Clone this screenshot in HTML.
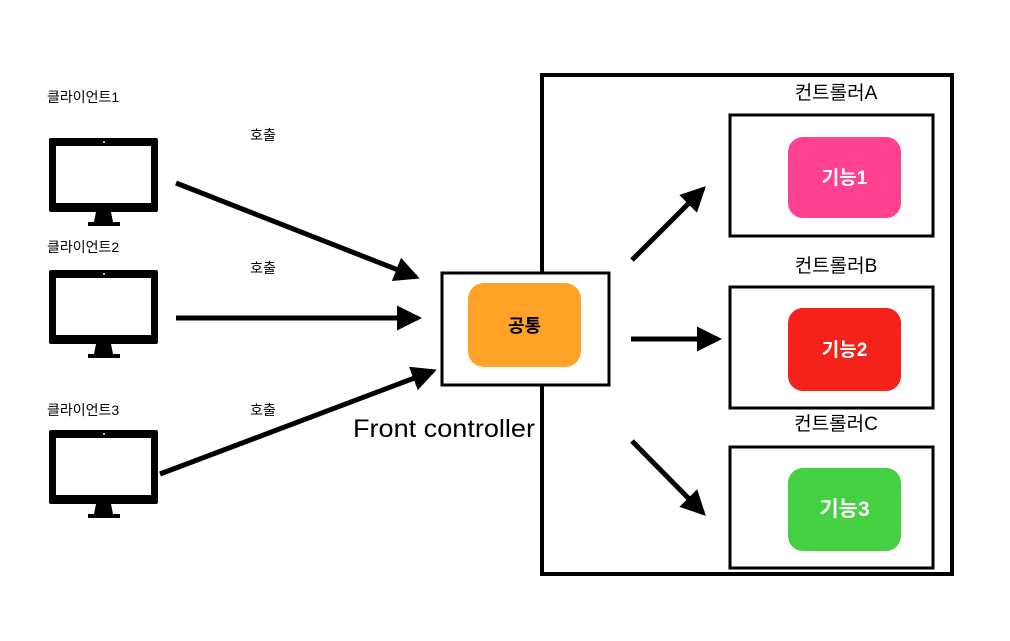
<!DOCTYPE html>
<html><head><meta charset="utf-8"><style>
html,body{margin:0;padding:0;background:#fff;}
svg{display:block;font-family:"Liberation Sans","Noto Sans CJK KR",sans-serif;}
</style></head><body>
<svg width="1010" height="641" viewBox="0 0 1010 641" xmlns="http://www.w3.org/2000/svg">
<defs>
<marker id="ah" markerWidth="6" markerHeight="6" refX="4.2" refY="3" orient="auto" markerUnits="strokeWidth">
<path d="M0,0.5 L5,3 L0,5.5 z" fill="#000"/>
</marker>
<g id="mon">
<rect x="49" y="138" width="109" height="74" rx="2" fill="#000"/>
<rect x="56" y="146" width="95" height="57" fill="#fff"/>
<circle cx="104" cy="142" r="1" fill="#fff"/>
<path d="M96,212 L111,212 L113,222 L94,222 z" fill="#000"/>
<rect x="88" y="222" width="32" height="4" fill="#000"/>
</g>
</defs>
<rect width="1010" height="641" fill="#fff"/>
<rect x="542" y="75" width="410" height="499" fill="none" stroke="#000" stroke-width="4"/>
<rect x="442" y="273" width="167" height="112" fill="#fff" stroke="#000" stroke-width="3"/>
<rect x="468" y="283" width="113" height="84" rx="16" fill="#FFA328"/>
<text x="524.5" y="332" text-anchor="middle" font-size="18" font-weight="bold" fill="#000">공통</text>
<text x="444" y="437" text-anchor="middle" font-size="25" fill="#000" textLength="182" lengthAdjust="spacingAndGlyphs">Front controller</text>

<rect x="730" y="115" width="203" height="121" fill="#fff" stroke="#000" stroke-width="3"/>
<rect x="788" y="137" width="113" height="81" rx="15" fill="#FF4190"/>
<text x="844.5" y="184" text-anchor="middle" font-size="19" font-weight="bold" fill="#fff">기능1</text>
<text x="836" y="99" text-anchor="middle" font-size="19" fill="#000">컨트롤러A</text>

<rect x="730" y="287" width="203" height="121" fill="#fff" stroke="#000" stroke-width="3"/>
<rect x="788" y="308" width="113" height="83" rx="15" fill="#F5221C"/>
<text x="844.5" y="356" text-anchor="middle" font-size="19" font-weight="bold" fill="#fff">기능2</text>
<text x="836" y="272" text-anchor="middle" font-size="19" fill="#000">컨트롤러B</text>

<rect x="730" y="447" width="203" height="121" fill="#fff" stroke="#000" stroke-width="3"/>
<rect x="788" y="468" width="113" height="83" rx="15" fill="#45D041"/>
<text x="844.5" y="516" text-anchor="middle" font-size="21" font-weight="bold" fill="#fff">기능3</text>
<text x="836" y="430" text-anchor="middle" font-size="19" fill="#000">컨트롤러C</text>

<use href="#mon"/>
<use href="#mon" y="132"/>
<use href="#mon" y="292"/>
<text x="47" y="102" font-size="14" fill="#000">클라이언트1</text>
<text x="47" y="252" font-size="14" fill="#000">클라이언트2</text>
<text x="47" y="415" font-size="14" fill="#000">클라이언트3</text>
<text x="263" y="140" text-anchor="middle" font-size="14" fill="#000">호출</text>
<text x="263" y="273" text-anchor="middle" font-size="14" fill="#000">호출</text>
<text x="263" y="415" text-anchor="middle" font-size="14" fill="#000">호출</text>
<g stroke="#000" stroke-width="5" fill="none" marker-end="url(#ah)">
<line x1="176" y1="183" x2="416" y2="277"/>
<line x1="176" y1="318" x2="418" y2="318"/>
<line x1="160" y1="474" x2="433" y2="371"/>
<line x1="632" y1="260" x2="703" y2="189"/>
<line x1="631" y1="339" x2="718" y2="339"/>
<line x1="632" y1="441" x2="703" y2="513"/>
</g>
</svg>
</body></html>
